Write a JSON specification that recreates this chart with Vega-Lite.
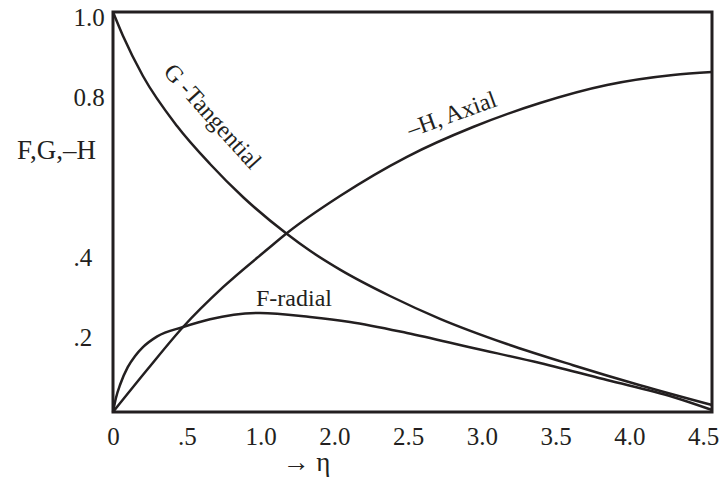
{
  "$schema": "https://vega.github.io/schema/vega-lite/v6.json",
  "width": 599,
  "height": 400,
  "autosize": "none",
  "padding": {"left": 113, "top": 12, "right": 12, "bottom": 69},
  "background": "white",
  "datasets": {
    "curves": [
      {"series": "G", "eta": 0, "value": 1.0},
      {"series": "G", "eta": 0.068, "value": 0.94},
      {"series": "G", "eta": 0.203, "value": 0.84},
      {"series": "G", "eta": 0.434, "value": 0.715},
      {"series": "G", "eta": 0.658, "value": 0.62},
      {"series": "G", "eta": 0.881, "value": 0.5375},
      {"series": "G", "eta": 1.18, "value": 0.445},
      {"series": "G", "eta": 1.336, "value": 0.403},
      {"series": "G", "eta": 1.539, "value": 0.356},
      {"series": "G", "eta": 1.878, "value": 0.29},
      {"series": "G", "eta": 2.217, "value": 0.233},
      {"series": "G", "eta": 2.671, "value": 0.17},
      {"series": "G", "eta": 3.119, "value": 0.117},
      {"series": "G", "eta": 3.573, "value": 0.067},
      {"series": "G", "eta": 4.061, "value": 0.0175},
      {"series": "H", "eta": 0, "value": 0},
      {"series": "H", "eta": 0.237, "value": 0.108},
      {"series": "H", "eta": 0.475, "value": 0.2125},
      {"series": "H", "eta": 0.746, "value": 0.312},
      {"series": "H", "eta": 1.051, "value": 0.408},
      {"series": "H", "eta": 1.18, "value": 0.4475},
      {"series": "H", "eta": 1.539, "value": 0.54},
      {"series": "H", "eta": 1.993, "value": 0.638},
      {"series": "H", "eta": 2.441, "value": 0.7125},
      {"series": "H", "eta": 2.895, "value": 0.7725},
      {"series": "H", "eta": 3.349, "value": 0.8175},
      {"series": "H", "eta": 3.797, "value": 0.8425},
      {"series": "H", "eta": 4.061, "value": 0.85},
      {"series": "F", "eta": 0, "value": 0},
      {"series": "F", "eta": 0.02, "value": 0.035},
      {"series": "F", "eta": 0.05, "value": 0.07},
      {"series": "F", "eta": 0.1, "value": 0.112},
      {"series": "F", "eta": 0.15, "value": 0.14},
      {"series": "F", "eta": 0.203, "value": 0.162},
      {"series": "F", "eta": 0.3, "value": 0.189},
      {"series": "F", "eta": 0.475, "value": 0.2125},
      {"series": "F", "eta": 0.658, "value": 0.232},
      {"series": "F", "eta": 0.997, "value": 0.2475},
      {"series": "F", "eta": 1.336, "value": 0.2375},
      {"series": "F", "eta": 1.607, "value": 0.225},
      {"series": "F", "eta": 1.993, "value": 0.1975},
      {"series": "F", "eta": 2.441, "value": 0.16},
      {"series": "F", "eta": 2.895, "value": 0.1225},
      {"series": "F", "eta": 3.349, "value": 0.08},
      {"series": "F", "eta": 3.797, "value": 0.0375},
      {"series": "F", "eta": 4.061, "value": 0.005}
    ],
    "labels": [
      {"label": "G -Tangential", "eta": 0.671, "value": 0.7375},
      {"label": "–H, Axial", "eta": 2.298, "value": 0.7425},
      {"label": "F-radial", "eta": 1.227, "value": 0.2825}
    ]
  },
  "config": {
    "font": "Liberation Serif",
    "view": {"stroke": "#231f20", "strokeWidth": 3},
    "axis": {
      "domain": false,
      "ticks": false,
      "tickSize": 0,
      "grid": false,
      "labelFont": "Liberation Serif",
      "labelFontSize": 25,
      "labelColor": "#231f20",
      "titleFont": "Liberation Serif",
      "titleFontSize": 27,
      "titleFontWeight": "normal",
      "titleColor": "#231f20"
    }
  },
  "encoding": {
    "x": {
      "field": "eta",
      "type": "quantitative",
      "scale": {"domain": [0, 4.061], "nice": false, "zero": false},
      "axis": {
        "values": [0, 0.5, 1, 1.5, 2, 2.5, 3, 3.5, 4],
        "labelExpr": "datum.value == 0 ? '0' : datum.value == 0.5 ? '.5' : format(datum.value < 1.25 ? datum.value : datum.value + 0.5, '.1f')",
        "labelPadding": 12,
        "labelFlush": false,
        "labelOverlap": false,
        "title": "→ η",
        "titleX": 193,
        "titleY": 58,
        "titleAlign": "center",
        "titleBaseline": "alphabetic",
        "titleAnchor": null
      }
    },
    "y": {
      "field": "value",
      "type": "quantitative",
      "scale": {"domain": [0, 1], "nice": false},
      "axis": {
        "values": [0.2, 0.4, 0.8, 1.0],
        "labelExpr": "datum.value == 0.2 ? '.2' : datum.value == 0.4 ? '.4' : format(datum.value, '.1f')",
        "labelAlign": "left",
        "labelBaseline": "middle",
        "labelPadding": 40,
        "labelOffset": 5,
        "labelFlush": false,
        "labelOverlap": false,
        "title": "F,G,–H",
        "titleAngle": 0,
        "titleX": -57,
        "titleY": 146,
        "titleAlign": "center",
        "titleBaseline": "alphabetic",
        "titleAnchor": null
      }
    }
  },
  "layer": [
    {
      "data": {"name": "curves"},
      "mark": {"type": "line", "color": "#231f20", "strokeWidth": 2.5, "interpolate": "monotone"},
      "encoding": {"detail": {"field": "series"}}
    },
    {
      "data": {"name": "labels"},
      "transform": [{"filter": "datum.label == 'G -Tangential'"}],
      "mark": {"type": "text", "angle": 48, "fontSize": 24, "font": "Liberation Serif", "color": "#231f20"},
      "encoding": {"text": {"field": "label"}}
    },
    {
      "data": {"name": "labels"},
      "transform": [{"filter": "datum.label == '–H, Axial'"}],
      "mark": {"type": "text", "angle": -20, "fontSize": 24, "font": "Liberation Serif", "color": "#231f20"},
      "encoding": {"text": {"field": "label"}}
    },
    {
      "data": {"name": "labels"},
      "transform": [{"filter": "datum.label == 'F-radial'"}],
      "mark": {"type": "text", "fontSize": 24, "font": "Liberation Serif", "color": "#231f20"},
      "encoding": {"text": {"field": "label"}}
    }
  ]
}
